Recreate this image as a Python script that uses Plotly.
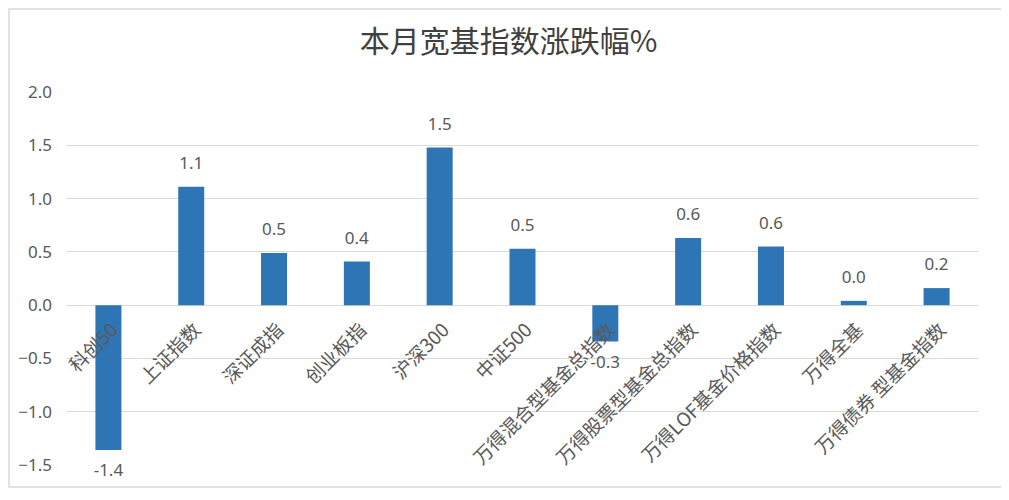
import plotly.graph_objects as go

# 本月宽基指数涨跌幅 (%)
categories = ['科创50', '上证指数', '深证成指', '创业板指', '沪深300', '中证500',
              '万得混合型基金总指数', '万得股票型基金总指数', '万得LOF基金价格指数',
              '万得全基', '万得债券 型基金指数']
changes = [-1.36, 1.11, 0.49, 0.41, 1.48, 0.53, -0.34, 0.63, 0.55, 0.04, 0.16]
y_ticks = [-1.5, -1.0, -0.5, 0.0, 0.5, 1.0, 1.5, 2.0]

grey = '#595959'
num_font = 'Noto Sans, Liberation Sans, sans-serif'
cjk_font = 'Noto Sans CJK SC, sans-serif'

fig = go.Figure()
fig.add_trace(go.Bar(
    x=categories, y=changes,
    marker=dict(color='#2e75b6', line=dict(width=0)),
    hoverinfo='x+y',
))
# value labels: invisible markers give the label some room from the bar end
fig.add_trace(go.Scatter(
    x=categories, y=changes, mode='text+markers',
    marker=dict(size=20, color='rgba(0,0,0,0)'),
    text=[f'{v:.1f}' for v in changes],
    textposition=['top center' if v >= 0 else 'bottom center' for v in changes],
    textfont=dict(family=num_font, size=17, color=grey),
    cliponaxis=False, hoverinfo='skip',
))

ymin, ymax = -1.5, 2.0
# page body has an 8px margin, so the figure is a bit smaller than the window
fig.update_layout(
    width=1001, height=492,
    paper_bgcolor='white', plot_bgcolor='white',
    margin=dict(l=59, r=31, t=84, b=35),
    bargap=0.686,
    showlegend=False,
    title=dict(text='本月宽基指数涨跌幅%', x=0.5, xanchor='center', y=0.931, yanchor='middle',
               font=dict(family=cjk_font, size=30, color='#404040')),
)

fig.update_yaxes(range=[ymin, ymax], tickvals=y_ticks, tickformat='.1f',
                 showgrid=True, gridcolor='#d9d9d9', gridwidth=1,
                 zeroline=True, zerolinecolor='#d9d9d9', zerolinewidth=1,
                 showline=False, ticks='', ticklabelstandoff=14, automargin=False,
                 tickfont=dict(family=num_font, size=17, color=grey))

# category axis sits on the zero line, as in the Excel original
fig.update_xaxes(anchor='free', position=(0 - ymin) / (ymax - ymin),
                 range=[-0.5, len(categories) - 0.5],
                 tickangle=-45, showline=False, ticks='', showgrid=False, automargin=False,
                 ticklabelstandoff=9, ticklabelshift=4,
                 tickfont=dict(family=cjk_font, size=19, color=grey))

# outer chart border
fig.add_shape(type='rect', xref='paper', yref='paper',
              x0=-0.0637, x1=1.026, y0=-0.059, y1=1.2225,
              line=dict(color='#d9d9d9', width=1.5), fillcolor='rgba(0,0,0,0)')

fig.write_html('out.html')
